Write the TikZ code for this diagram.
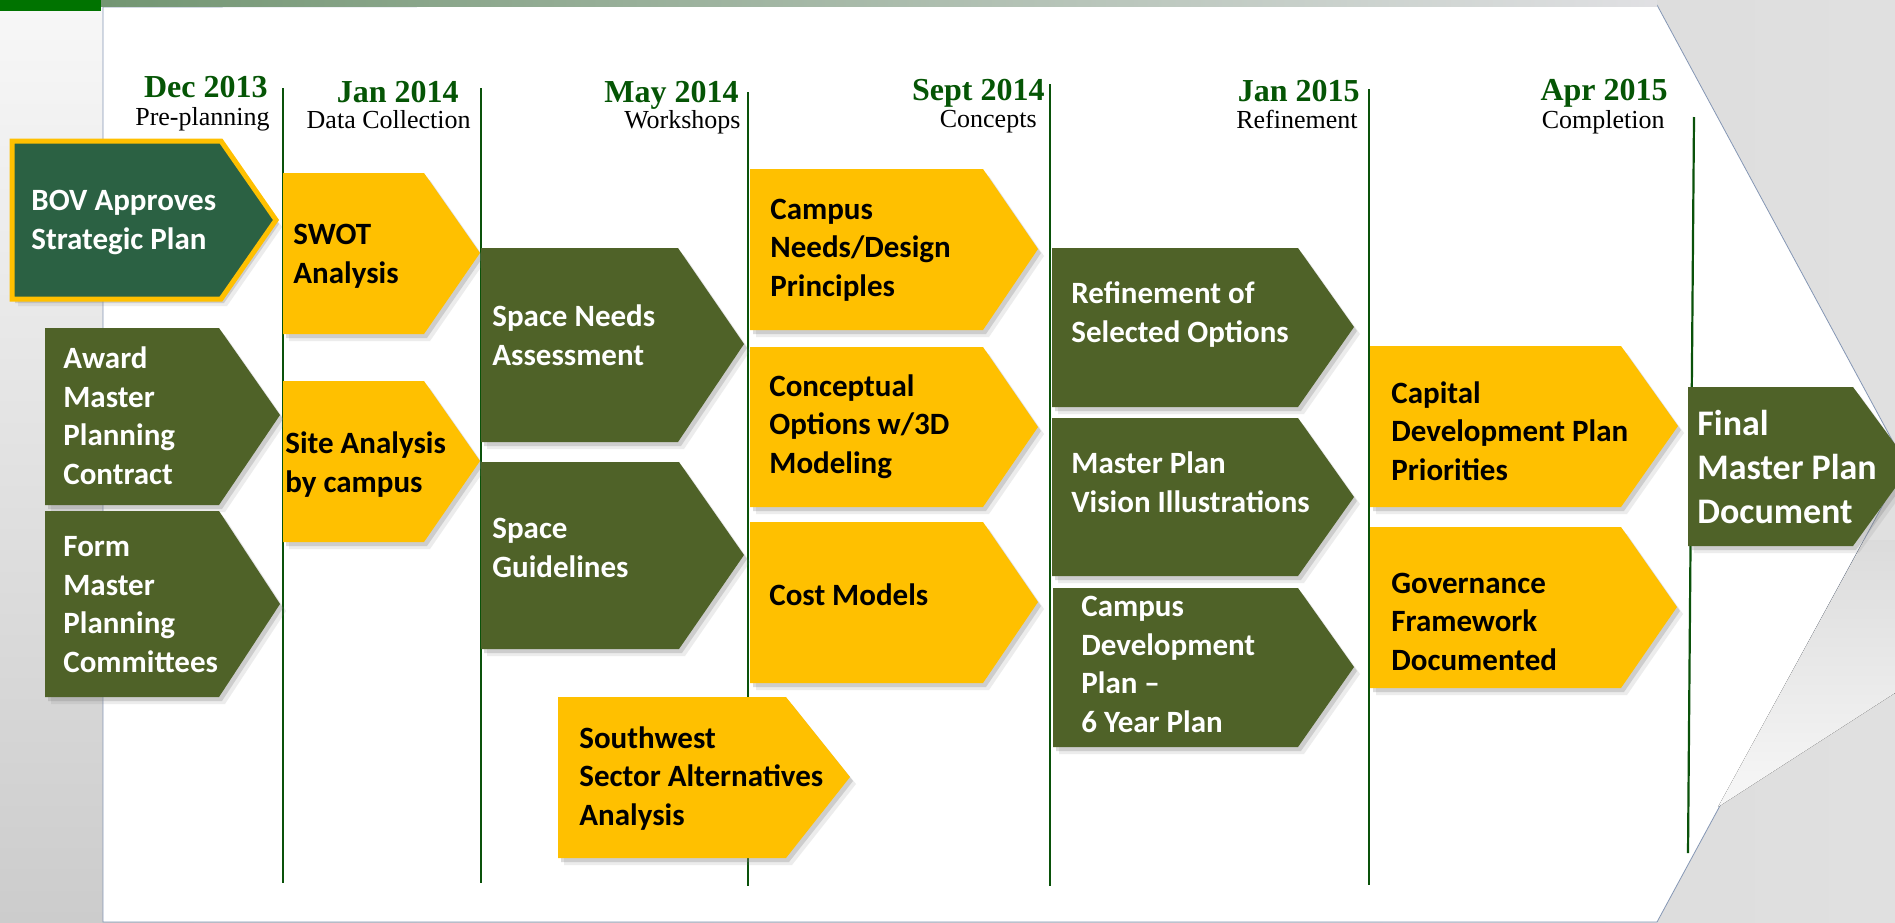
\documentclass[tikz,border=0pt]{standalone}
\usepackage{fontspec}
\setmainfont{Liberation Serif}
\newfontfamily\boxfont{Carlito}
\usetikzlibrary{shadows}

\definecolor{stageyellow}{RGB}{255,192,0}
\definecolor{stageolive}{RGB}{79,98,40}
\definecolor{bovgreen}{RGB}{43,97,67}
\definecolor{datecol}{RGB}{5,85,5}
\definecolor{linecol}{RGB}{10,82,10}
\definecolor{edgecol}{RGB}{132,150,180}

\tikzset{
  softshadow/.style={
    drop shadow={shadow xshift=1.5pt, shadow yshift=-2pt, opacity=0.28},
    drop shadow={shadow xshift=3pt, shadow yshift=-3.5pt, opacity=0.15}},
  yellowbox/.style={fill=stageyellow, softshadow},
  olivebox/.style={fill=stageolive, softshadow},
  % anchored at the baseline of the last line
  stagetext/.style={anchor=base west, inner sep=0pt, align=left,
    font={\boxfont\bfseries\fontsize{15.5}{19.25}\selectfont}},
  datelabel/.style={anchor=base east, inner sep=0pt, text=datecol,
    font={\bfseries\fontsize{16}{16}\selectfont}},
  phaselabel/.style={anchor=base east, inner sep=0pt,
    font={\fontsize{13}{13}\selectfont}},
  timeline/.style={draw=linecol, line width=1.1pt}
}

\begin{document}
\begin{tikzpicture}[x=0.5pt,y=0.5pt,yscale=-1]
\useasboundingbox (0,0) rectangle (1895,922);

% background: grey page, white chevron panel
\fill[left color=black!22, right color=black!12] (0,0) rectangle (1895,922);
\fill[top color=black!3, bottom color=black!20] (0,0) rectangle (103,922);
\fill[white, draw=edgecol, line width=0.4pt] (103,7) -- (1657,5) -- (1905,464) -- (1657,922) -- (103,922) -- cycle;
% folded corner
\fill[top color=black!14, bottom color=black!3] (1864,540) -- (1895,540) -- (1895,693) -- (1718,807) -- cycle;
% top bars
\fill[green!45!black] (0,0) rectangle (101,11);
\fill[left color=green!25!black!55, right color=blue!10!black!12] (101,0) rectangle (1657,6);

% timeline lines
\draw[timeline] (283,88) -- (283,883);
\draw[timeline] (481,88) -- (481,883);
\draw[timeline] (748,92) -- (748,886);
\draw[timeline] (1050,84) -- (1050,886);
\draw[timeline] (1369,89) -- (1369,885);
\draw[timeline] (1694,117) -- (1688,853);

% phase headings
\node[datelabel] (dec13) at (268,97) {Dec 2013};
\node[phaselabel] (preplan) at (270,125) {Pre-planning};
\node[datelabel] (jan14) at (459,102) {Jan 2014};
\node[phaselabel] (datacol) at (471,128) {Data Collection};
\node[datelabel] (may14) at (739,102) {May 2014};
\node[phaselabel] (workshops) at (741,128) {Workshops};
\node[datelabel] (sep14) at (1045,100) {Sept 2014};
\node[phaselabel] (concepts) at (1037,127) {Concepts};
\node[datelabel] (jan15) at (1360,101) {Jan 2015};
\node[phaselabel] (refine) at (1358,128) {Refinement};
\node[datelabel] (apr15) at (1668,100) {Apr 2015};
\node[phaselabel] (complete) at (1665,128) {Completion};

% pre-planning
\draw[fill=bovgreen, draw=stageyellow, line width=2.5pt, softshadow] (12,141) -- (221,141) -- (276,220) -- (221,299) -- (12,299) -- cycle;
\node[stagetext, text=white] (bov) at (31,249) {BOV Approves\\Strategic Plan};
\fill[olivebox] (45,328) -- (219,328) -- (280,415) -- (219,505) -- (45,505) -- cycle;
\node[stagetext, text=white] (award) at (63,484) {Award\\Master\\Planning\\Contract};
\fill[olivebox] (45,511) -- (219,511) -- (280,604) -- (219,697) -- (45,697) -- cycle;
\node[stagetext, text=white] (form) at (63,672) {Form\\Master\\Planning\\Committees};

% data collection
\fill[yellowbox] (283,173) -- (424,173) -- (480,253) -- (424,334) -- (283,334) -- cycle;
\node[stagetext] (swot) at (293,283) {SWOT\\Analysis};
\fill[yellowbox] (283,381) -- (424,381) -- (480,461) -- (424,542) -- (283,542) -- cycle;
\node[stagetext] (site) at (285,492) {Site Analysis\\by campus};

% workshops
\fill[olivebox] (481,248) -- (678,248) -- (744,344) -- (678,442) -- (481,442) -- cycle;
\node[stagetext, text=white] (spaceneeds) at (492,365) {Space Needs\\Assessment};
\fill[olivebox] (481,462) -- (679,462) -- (744,555) -- (679,649) -- (481,649) -- cycle;
\node[stagetext, text=white] (spaceguide) at (492,577) {Space\\Guidelines};
\fill[yellowbox] (558,697) -- (786,697) -- (850,777) -- (786,858) -- (558,858) -- cycle;
\node[stagetext] (southwest) at (579,825) {Southwest\\Sector Alternatives\\Analysis};

% concepts
\fill[yellowbox] (750,169) -- (983,169) -- (1038,249) -- (983,330) -- (750,330) -- cycle;
\node[stagetext] (campusneeds) at (770,296) {Campus\\Needs/Design\\Principles};
\fill[yellowbox] (750,347) -- (983,347) -- (1038,427) -- (983,507) -- (750,507) -- cycle;
\node[stagetext] (conceptual) at (769,473) {Conceptual\\Options w/3D\\Modeling};
\fill[yellowbox] (750,522) -- (983,522) -- (1038,602) -- (983,683) -- (750,683) -- cycle;
\node[stagetext] (cost) at (769,605) {Cost Models};

% refinement
\fill[olivebox] (1052,248) -- (1298,248) -- (1354,327) -- (1298,407) -- (1052,407) -- cycle;
\node[stagetext, text=white] (refoptions) at (1071,342) {Refinement of\\Selected Options};
\fill[olivebox] (1052,418) -- (1298,418) -- (1354,497) -- (1298,576) -- (1052,576) -- cycle;
\node[stagetext, text=white] (vision) at (1071,512) {Master Plan\\Vision Illustrations};
\fill[olivebox] (1053,588) -- (1298,588) -- (1354,667) -- (1298,747) -- (1053,747) -- cycle;
\node[stagetext, text=white] (campusdev) at (1081,732) {Campus\\Development\\Plan –\\6 Year Plan};

% completion
\fill[yellowbox] (1370,346) -- (1621,346) -- (1678,426) -- (1621,507) -- (1370,507) -- cycle;
\node[stagetext] (capital) at (1391,480) {Capital\\Development Plan\\Priorities};
\fill[yellowbox] (1370,527) -- (1621,527) -- (1677,607) -- (1621,688) -- (1370,688) -- cycle;
\node[stagetext] (governance) at (1391,670) {Governance\\Framework\\Documented};

% final document
\fill[olivebox] (1688,387) -- (1853,387) -- (1911,466) -- (1853,546) -- (1688,546) -- cycle;
\node[stagetext, text=white, font={\boxfont\bfseries\fontsize{18}{22}\selectfont}] (final) at (1697,523) {Final\\Master Plan\\Document};
\end{tikzpicture}
\end{document}
